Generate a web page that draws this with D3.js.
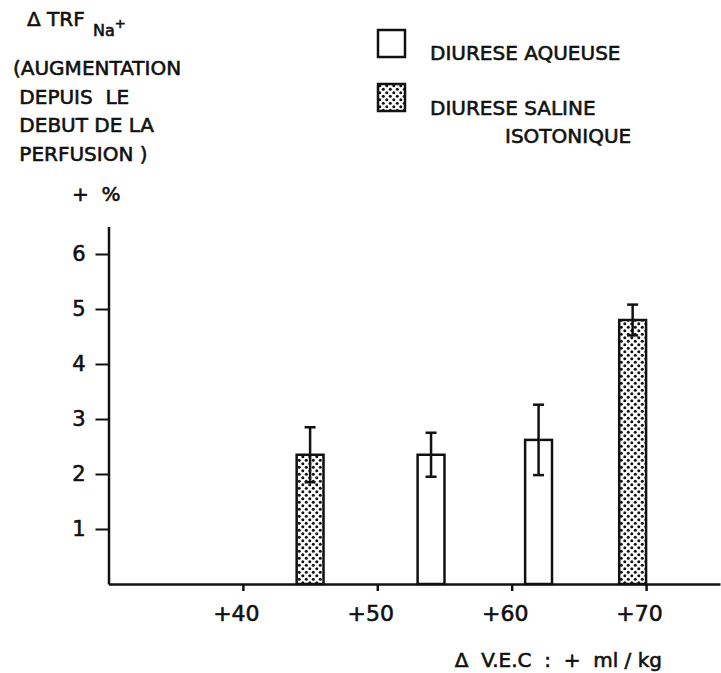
<!DOCTYPE html>
<html>
<head>
<meta charset="utf-8">
<script src="https://cdn.jsdelivr.net/npm/d3@7.9.0/dist/d3.min.js"></script>
<style>
  body { margin: 0; background: #fff; }
  svg { display: block; font-family: 'DejaVu Sans', sans-serif; }
  svg text { stroke: #111; stroke-width: 0.6; }
</style>
</head>
<body>
<svg id="chart"></svg>
<script>
// Data
const vecValues = [45, 54, 62, 69];          // Δ V.E.C (+ml/kg), bar centres
const trfValues = [2.35, 2.35, 2.62, 4.8];   // Δ TRF Na+ (+%)
const errValues = [0.5, 0.4, 0.64, 0.28];    // error bar half-length
const groups = ['saline', 'aqueous', 'aqueous', 'saline'];
const xTicks = [40, 50, 60, 70];
const yTicks = [1, 2, 3, 4, 5, 6];
const legendLabels = [['DIURESE AQUEUSE'], ['DIURESE SALINE', 'ISOTONIQUE']];

const width = 721;
const height = 673;
const ink = '#111';

const svg = d3.select('#chart')
  .attr('width', width)
  .attr('height', height)
  .attr('viewBox', [0, 0, width, height]);

// dotted fill for the saline bars
const pattern = svg.append('defs').append('pattern')
  .attr('id', 'dots')
  .attr('width', 7)
  .attr('height', 7)
  .attr('patternUnits', 'userSpaceOnUse');
pattern.append('rect').attr('width', 7).attr('height', 7).attr('fill', '#fff');
pattern.append('circle').attr('cx', 1.8).attr('cy', 1.8).attr('r', 1.5).attr('fill', ink);
pattern.append('circle').attr('cx', 5.3).attr('cy', 5.3).attr('r', 1.5).attr('fill', ink);

const x = d3.scaleLinear().domain([30, 75.5]).range([108.5, 720]);
const y = d3.scaleLinear().domain([0, 6.5]).range([584, 226.5]);
const barWidth = x(32) - x(30);

// y axis
svg.append('g')
  .attr('transform', `translate(${x(30)},0)`)
  .call(d3.axisLeft(y).tickValues(yTicks).tickFormat(d3.format('d'))
    .tickSize(13).tickPadding(10).tickSizeOuter(0))
  .call((g) => g.select('.domain').attr('stroke', ink).attr('stroke-width', 2.5))
  .call((g) => g.selectAll('.tick line').attr('stroke', ink).attr('stroke-width', 2))
  .call((g) => g.selectAll('.tick text')
    .attr('fill', ink)
    .attr('font-size', 21)
    .attr('font-family', 'DejaVu Sans'));

// x axis
svg.append('g')
  .attr('transform', `translate(0,${y(0)})`)
  .call(d3.axisBottom(x).tickValues(xTicks).tickSize(7).tickPadding(14).tickSizeOuter(0)
    .tickFormat((d) => '+' + d))
  .call((g) => g.select('.domain').attr('stroke', ink).attr('stroke-width', 2.5))
  .call((g) => g.selectAll('.tick line').attr('stroke', ink).attr('stroke-width', 2.5))
  .call((g) => g.selectAll('.tick text')
    .attr('fill', ink)
    .attr('dx', -7)
    .attr('font-size', 22)
    .attr('font-family', 'DejaVu Sans'));

// bars
svg.append('g')
  .selectAll('rect')
  .data(vecValues)
  .join('rect')
  .attr('x', (d) => x(d) - barWidth / 2)
  .attr('y', (d, i) => y(trfValues[i]))
  .attr('width', barWidth)
  .attr('height', (d, i) => y(0) - y(trfValues[i]))
  .attr('fill', (d, i) => (groups[i] === 'saline' ? 'url(#dots)' : '#fff'))
  .attr('stroke', ink)
  .attr('stroke-width', 2.5);

// error bars
const err = svg.append('g')
  .attr('stroke', ink)
  .attr('stroke-width', 2.5)
  .selectAll('g')
  .data(vecValues)
  .join('g');
err.append('line')
  .attr('x1', (d) => x(d))
  .attr('x2', (d) => x(d))
  .attr('y1', (d, i) => y(trfValues[i] + errValues[i]))
  .attr('y2', (d, i) => y(trfValues[i] - errValues[i]));
err.selectAll('.cap')
  .data((d, i) => [[d, trfValues[i] + errValues[i]], [d, trfValues[i] - errValues[i]]])
  .join('line')
  .attr('class', 'cap')
  .attr('x1', (d) => x(d[0]) - 5.5)
  .attr('x2', (d) => x(d[0]) + 5.5)
  .attr('y1', (d) => y(d[1]))
  .attr('y2', (d) => y(d[1]));

// y axis title
const title = svg.append('g').attr('fill', ink).attr('font-size', 20);
const t0 = title.append('text').attr('x', 27).attr('y', 26);
t0.append('tspan').text('Δ TRF ');
t0.append('tspan').attr('font-size', 16).attr('dy', 10).attr('dx', 2).text('Na');
t0.append('tspan').attr('font-size', 13).attr('dy', -8).text('+');
['(AUGMENTATION', ' DEPUIS  LE', ' DEBUT DE LA', ' PERFUSION )'].forEach((s, i) => {
  title.append('text')
    .attr('x', 13)
    .attr('y', 75 + i * 28.5)
    .style('white-space', 'pre')
    .text(s);
});
title.append('text').attr('x', 72).attr('y', 201).style('white-space', 'pre').text('+  %');

// legend
const legend = svg.append('g').attr('fill', ink).attr('font-size', 20);
legend.selectAll('rect')
  .data(legendLabels)
  .join('rect')
  .attr('x', 378)
  .attr('y', (d, i) => 30 + i * 54)
  .attr('width', 27)
  .attr('height', 27)
  .attr('fill', (d, i) => (i === 1 ? 'url(#dots)' : '#fff'))
  .attr('stroke', ink)
  .attr('stroke-width', 2.5);
legend.selectAll('text')
  .data(legendLabels)
  .join('text')
  .attr('y', (d, i) => 60 + i * 55)
  .selectAll('tspan')
  .data((d) => d)
  .join('tspan')
  .attr('x', (d, j) => (j === 0 ? 430 : 505))
  .attr('dy', (d, j) => (j === 0 ? 0 : 28))
  .text((d) => d);

// x axis title
svg.append('text')
  .attr('x', 662)
  .attr('y', 667)
  .attr('text-anchor', 'end')
  .attr('fill', ink)
  .attr('font-size', 20)
  .style('white-space', 'pre')
  .text('Δ  V.E.C  :  +  ml / kg');
</script>
</body>
</html>
